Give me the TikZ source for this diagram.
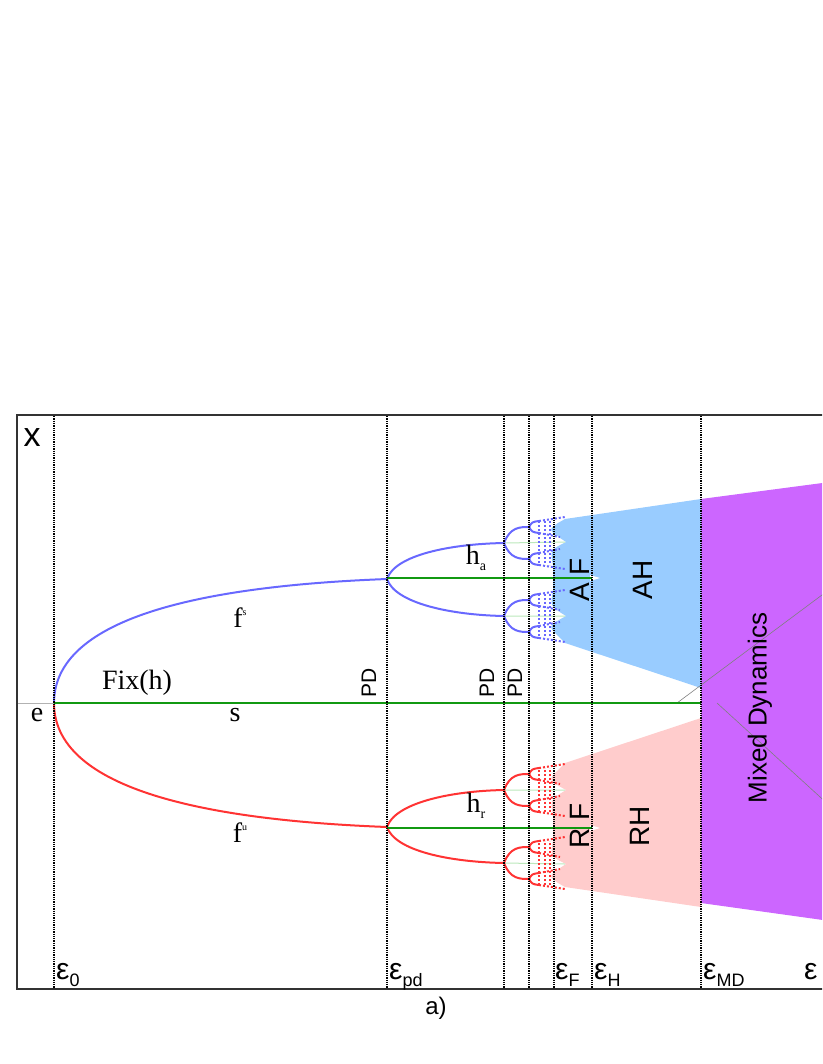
\documentclass[tikz,border=0pt]{standalone}
\usepackage{fontspec}
\setmainfont{Liberation Serif}
\setsansfont{Liberation Sans}
\begin{document}
\begin{tikzpicture}[x=1pt,y=-1pt,
  vline/.style={densely dotted,line width=1.3pt},
  bran/.style={line width=2pt},
  dbran/.style={line width=2pt,dotted},
  gline/.style={line width=2pt,draw=gr},
  sansl/.style={font=\sffamily\fontsize{34}{34}\selectfont},
  serl/.style={font=\fontsize{28}{28}\selectfont},
  eps/.style={font=\sffamily\fontsize{30}{30}\selectfont,anchor=base west,inner sep=2pt}]
\definecolor{bl}{HTML}{6868FF}
\definecolor{rd}{HTML}{FF3333}
\definecolor{gr}{HTML}{119911}
\definecolor{lgr}{HTML}{BBE8BB}
\definecolor{lbl}{HTML}{99CCFF}
\definecolor{pk}{HTML}{FFCCCC}
\definecolor{pu}{HTML}{CC66FF}
\useasboundingbox (0,0) rectangle (822,1064);
\begin{scope}
\clip (0,0) rectangle (822,1064);
\newcommand\halfpic[2]{%
  \fill[#2] (565,519) -- (558,523) .. controls (548,530) .. (566,542)
    .. controls (550,550) .. (553,565) -- (553,591)
    .. controls (550,606) .. (566,616)
    .. controls (548,626) .. (558,636) -- (565,643) -- (701,688) -- (701,499) -- cycle;
  \fill[white] (590,575) -- (600,578) -- (590,581) -- cycle;
  \draw[lgr,line width=1pt] (504,543) -- (565,542) (504,616) -- (565,616);
  \draw[bran,#1] (54,703) .. controls (54,610) and (230,585) .. (387,579);
  \draw[bran,#1] (387,579) .. controls (395,555) and (450,544) .. (504,543);
  \draw[bran,#1] (387,579) .. controls (395,603) and (450,615) .. (504,616);
  \foreach \y/\d in {543/16,616/16} {
    \draw[bran,#1] (504,\y) .. controls (510,\y-\d) and (520,\y-\d) .. (529,\y-\d);
    \draw[bran,#1] (504,\y) .. controls (510,\y+\d) and (520,\y+\d) .. (529,\y+\d);
    \foreach \s in {-1,1} {
      \draw[bran,#1] (529,\y+\s*\d) .. controls (532,\y+\s*\d-5) .. (539,\y+\s*\d-6);
      \draw[bran,#1] (529,\y+\s*\d) .. controls (532,\y+\s*\d+5) .. (539,\y+\s*\d+6);
    }
    \draw[dbran,#1] (539,\y-22) -- (565,\y-26);
    \draw[dbran,#1] (539,\y+22) -- (565,\y+26);
    \draw[dbran,#1] (539,\y-10) -- (560,\y-6);
    \draw[dbran,#1] (539,\y+10) -- (560,\y+6);
    \foreach \x in {539,545,550} \draw[dbran,#1] (\x,\y-22) -- (\x,\y+22);
  }
  \draw[gline] (387,578) -- (592,578);
}
\halfpic{bl}{lbl}
\begin{scope}[shift={(0,1406)},yscale=-1]
\halfpic{rd}{pk}
\end{scope}
\fill[pu] (701,499) -- (830,482) -- (830,921) -- (701,903) -- cycle;
\draw[gray,line width=0.6pt] (677,703) -- (830,589);
\draw[gray,line width=0.6pt] (717,703) -- (830,806);
\draw[gray!60,line width=0.8pt] (17,703) -- (54,703);
\draw[gline] (54,703) -- (701,703);
\foreach \x in {54,387,504,529,554,592,701} \draw[vline] (\x,416) -- (\x,989);
\draw[line width=1.3pt,black!80] (830,415) -- (17,415) -- (17,989) -- (830,989);
\end{scope}
\node[sansl] (xl) at (32,438) {x};
\node[serl] (el) at (37,715) {e};
\node[serl] (fix) at (137,683) {Fix(h)};
\node[serl] (sl) at (235,715) {s};
\node[serl] (fs) at (240,618) {f\raisebox{12pt}{\fontsize{10}{10}\selectfont s}};
\node[serl] (fu) at (240,833) {f\raisebox{12pt}{\fontsize{10}{10}\selectfont u}};
\node[serl] (ha) at (476,558) {h\raisebox{-6pt}{\fontsize{14}{14}\selectfont a}};
\node[serl] (hr) at (476,806) {h\raisebox{-6pt}{\fontsize{14}{14}\selectfont r}};
\node[font=\sffamily\fontsize{21}{21}\selectfont,rotate=90] (pd1) at (369,683) {PD};
\node[font=\sffamily\fontsize{21}{21}\selectfont,rotate=90] (pd2) at (487,683) {PD};
\node[font=\sffamily\fontsize{21}{21}\selectfont,rotate=90] (pd3) at (515,683) {PD};
\node[font=\sffamily\fontsize{28}{28}\selectfont,rotate=90] (af) at (580,580) {A F};
\node[font=\sffamily\fontsize{28}{28}\selectfont,rotate=90] (ah) at (643,580) {AH};
\node[font=\sffamily\fontsize{28}{28}\selectfont,rotate=90] (rf) at (580,826) {R F};
\node[font=\sffamily\fontsize{28}{28}\selectfont,rotate=90] (rh) at (640,826) {RH};
\node[font=\sffamily\fontsize{26}{26}\selectfont,rotate=90] (md) at (760,708) {Mixed Dynamics};
\node[eps] (e0) at (54,979) {ε\raisebox{-7pt}{\fontsize{18}{18}\selectfont 0}};
\node[eps] (epd) at (387,979) {ε\raisebox{-7pt}{\fontsize{18}{18}\selectfont pd}};
\node[eps] (ef) at (553,979) {ε\raisebox{-7pt}{\fontsize{18}{18}\selectfont F}};
\node[eps] (eh) at (592,979) {ε\raisebox{-7pt}{\fontsize{18}{18}\selectfont H}};
\node[eps] (emd) at (701,979) {ε\raisebox{-7pt}{\fontsize{18}{18}\selectfont MD}};
\node[eps] (eps) at (802,979) {ε};
\node[font=\sffamily\fontsize{24}{24}\selectfont] (al) at (436,1008) {a)};
\end{tikzpicture}
\end{document}
